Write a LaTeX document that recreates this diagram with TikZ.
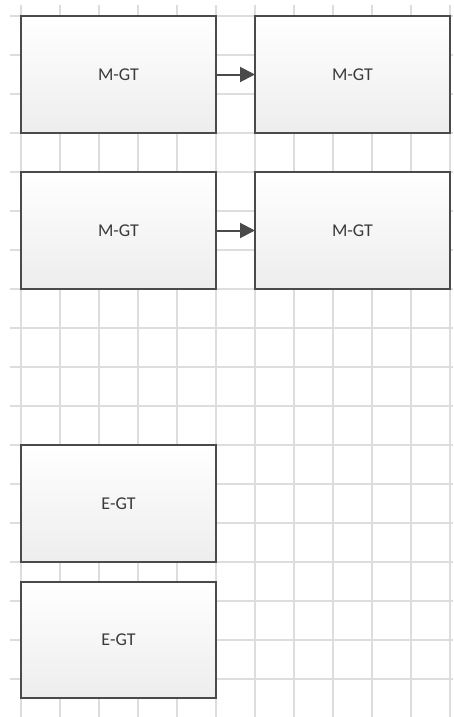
\documentclass[tikz,border=0pt]{standalone}
\usepackage{fontspec}
\setmainfont{Carlito}
\usetikzlibrary{arrows.meta,shadings}
\definecolor{gridline}{HTML}{DDDDDD}
\definecolor{boxedge}{HTML}{4A4A4A}
\definecolor{boxtext}{HTML}{3A3A3A}
\definecolor{boxlow}{HTML}{EDEDED}
\tikzset{
  gtbox/.style={draw=boxedge, line width=1.6pt, top color=white, bottom color=boxlow,
    minimum width=195pt, minimum height=117pt, inner sep=0pt, outer sep=0pt,
    text=boxtext, font=\fontsize{18pt}{20pt}\selectfont},
  link/.style={draw=boxedge, line width=2pt, -{Triangle[length=15pt,width=15pt]}},
  gridrule/.style={draw=gridline, line width=1.4pt}
}
\begin{document}
\begin{tikzpicture}[x=1pt,y=-1pt]
  \useasboundingbox (0,0) rectangle (453,717);
  % background grid
  \foreach \k in {0,...,11}
    \draw[gridrule] ({21+39*\k},5) -- ({21+39*\k},717);
  \foreach \k in {0,...,17}
    \draw[gridrule] (10,{16+39*\k}) -- (453,{16+39*\k});
  % boxes
  \node[gtbox] (m1) at (118.5,74.5) {M-GT};
  \node[gtbox] (m2) at (352.5,74.5) {M-GT};
  \node[gtbox] (m3) at (118.5,230.5) {M-GT};
  \node[gtbox] (m4) at (352.5,230.5) {M-GT};
  \node[gtbox] (e1) at (118.5,503.5) {E-GT};
  \node[gtbox, minimum height=116pt] (e2) at (118.5,640) {E-GT};
  % connectors
  \draw[link] (m1.east) -- (m2.west);
  \draw[link] (m3.east) -- (m4.west);
\end{tikzpicture}
\end{document}
